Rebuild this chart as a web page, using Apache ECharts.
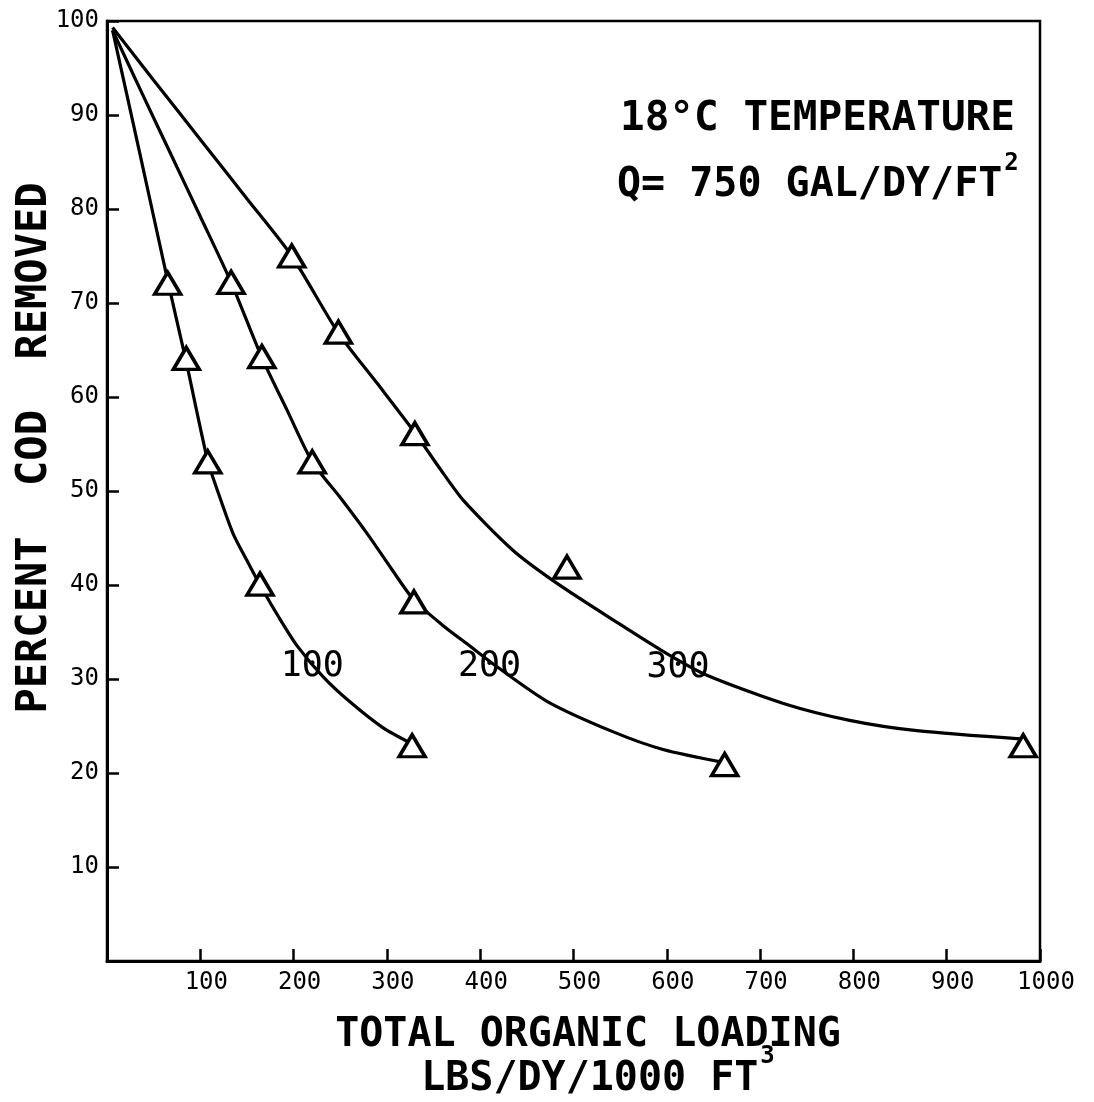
<!DOCTYPE html>
<html><head><meta charset="utf-8">
<script src="https://cdn.jsdelivr.net/npm/echarts@6/dist/echarts.min.js"></script>
<style>html,body{margin:0;padding:0;background:#fff}#c{width:1094px;height:1102px}</style>
</head><body><div id="c"></div>
<script>
// ---- data ----
const xTicks = [100,200,300,400,500,600,700,800,900,1000];
const yTicks = [10,20,30,40,50,60,70,80,90,100];

// measured points (triangles): [loading, % COD removed]
const points100 = [[65,72.1],[85,64.1],[108,53.1],[164,40.1],[327,22.9]];
const points200 = [[133,72.2],[166,64.3],[220,53.1],[329,38.2],[662,20.9]];
const points300 = [[198,75.0],[248,66.9],[330,56.1],[493,41.9],[982,22.9]];

// hand-drawn fitted curves
const curve100 = [[6,99],[35,86],[65,72.4],[85,63.7],[108,53.2],[120,49.6],[135,45.5],[150,42.6],[164,40],[184,36.6],[204,33.5],[232,30.2],[260,27.6],[296,24.8],[327,23.1]];
const curve200 = [[6,99],[40,91.8],[70,85.5],[100,79.2],[133,72.2],[166,64.2],[193,58.6],[220,53.1],[250,49.3],[280,45.3],[305,41.7],[329,38.4],[360,35.7],[389,33.5],[418,31.3],[472,27.6],[542,24.4],[596,22.5],[662,21.1]];
const curve300 = [[6,99.3],[50,93.7],[100,87.4],[150,81.1],[198,75],[248,66.8],[290,61.4],[330,56.2],[356,52.5],[382,49],[435,43.7],[482,40.2],[547,36],[600,32.7],[643,30.4],[725,27.4],[796,25.6],[868,24.5],[982,23.6]];

const curveNames = ['100','200','300'];
const curveLabelPos = [[220,31.3],[410,31.3],[612,31.2]];

const xTitle1 = 'TOTAL ORGANIC LOADING';
const xTitle2 = 'LBS/DY/1000 FT';
const xTitle2Sup = '3';
const yTitle = 'PERCENT  COD  REMOVED';
const note1 = '18°C TEMPERATURE';
const note2 = 'Q= 750 GAL/DY/FT';
const note2Sup = '2';

// ---- helpers ----
const MONO = '"DejaVu Sans Mono", "Liberation Mono", monospace';
const cv = document.createElement('canvas').getContext('2d');
function textWidth(t, font){ cv.font = font; return cv.measureText(t).width; }

const titleFont = 'bold 40px ' + MONO;
const noteFont = 'bold 41px ' + MONO;
const note2Font = 'bold 40px ' + MONO;
const yTitleFont = 'bold 42px ' + MONO;
const supFont = 'bold 24px ' + MONO;
const w2 = textWidth(xTitle2, titleFont);
const wSup = textWidth(xTitle2Sup, supFont);
const x2Left = 597 - (w2 + wSup) / 2;
const n2Left = 617;
const wn2 = textWidth(note2, note2Font);

const chart = echarts.init(document.getElementById('c'), null, {renderer:'canvas'});

const lineStyle = {color:'#000', width:3.2, opacity:1};
const triStyle = {color:'#fff', borderColor:'#000', borderWidth:3.5, opacity:1};

function curveSeries(d){
  return {type:'line', data:d, showSymbol:false, smooth:0.25,
          lineStyle:lineStyle, z:2, silent:true};
}
function pointSeries(d){
  return {type:'scatter', data:d, symbol:'triangle', symbolSize:[26,22],
          itemStyle:triStyle, z:5, silent:true};
}

chart.setOption({
  backgroundColor:'#fff',
  animation:false,
  grid:{left:107, right:54, top:21, bottom:141, show:true, borderColor:'#000', borderWidth:2.5, backgroundColor:'transparent'},
  xAxis:{
    type:'value', min:0, max:1000, interval:100,
    axisLine:{show:true, onZero:false, lineStyle:{color:'#000', width:3}},
    axisTick:{show:true, inside:true, length:12, lineStyle:{color:'#000', width:2.5}},
    axisLabel:{color:'#000', fontFamily:MONO, fontSize:24, margin:10, padding:[0,0,0,12],
      formatter:v => xTicks.includes(v) ? String(v) : ''},
    splitLine:{show:false}
  },
  yAxis:{
    type:'value', min:0, max:100, interval:10,
    axisLine:{show:true, onZero:false, lineStyle:{color:'#000', width:3}},
    axisTick:{show:true, inside:true, length:12, lineStyle:{color:'#000', width:2.5}},
    axisLabel:{color:'#000', fontFamily:MONO, fontSize:24, margin:8,
      formatter:v => yTicks.includes(v) ? String(v) : ''},
    splitLine:{show:false}
  },
  series:[
    curveSeries(curve100), curveSeries(curve200), curveSeries(curve300),
    pointSeries(points100), pointSeries(points200), pointSeries(points300),
    {type:'scatter', symbolSize:0, z:6, silent:true, itemStyle:{opacity:1},
     data: curveLabelPos.map((p,i)=>({value:p, name:curveNames[i]})),
     label:{show:true, position:'inside', formatter:p=>p.name, color:'#000', opacity:1,
            fontFamily:MONO, fontSize:35}}
  ],
  graphic:[
    {type:'text', x:588, y:1036, style:{text:xTitle1, font:titleFont, fill:'#000', align:'center', verticalAlign:'middle'}},
    {type:'text', x:x2Left, y:1080, style:{text:xTitle2, font:titleFont, fill:'#000', align:'left', verticalAlign:'middle'}},
    {type:'text', x:x2Left + w2 + 2, y:1057, style:{text:xTitle2Sup, font:supFont, fill:'#000', align:'left', verticalAlign:'middle'}},
    {type:'text', x:35, y:448, rotation:Math.PI/2, style:{text:yTitle, font:yTitleFont, fill:'#000', align:'center', verticalAlign:'middle'}},
    {type:'text', x:620, y:119, style:{text:note1, font:noteFont, fill:'#000', align:'left', verticalAlign:'middle'}},
    {type:'text', x:n2Left, y:186, style:{text:note2, font:note2Font, fill:'#000', align:'left', verticalAlign:'middle'}},
    {type:'text', x:n2Left + wn2 + 2, y:164, style:{text:note2Sup, font:supFont, fill:'#000', align:'left', verticalAlign:'middle'}}
  ]
});
</script></body></html>
